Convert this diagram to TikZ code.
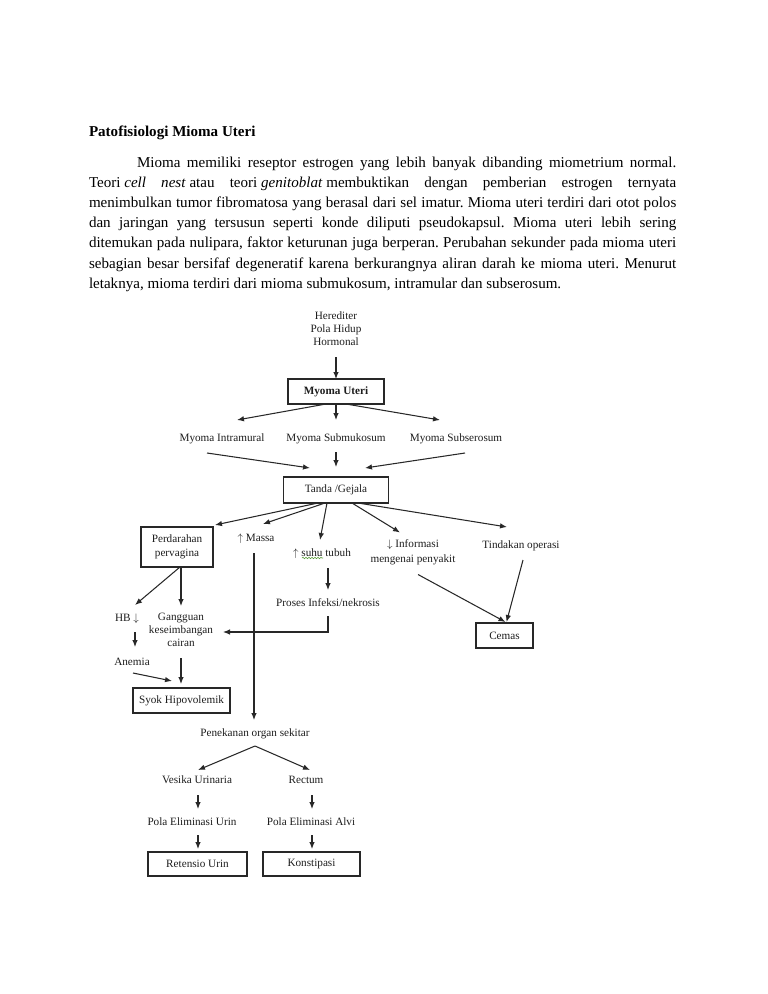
\documentclass[tikz,border=0pt]{standalone}
\usepackage{fontspec}
\setmainfont{Liberation Serif}
\usetikzlibrary{arrows.meta,calc,decorations.pathmorphing}
\definecolor{dtext}{HTML}{1E1E1E}
\definecolor{dline}{HTML}{282828}
\definecolor{squigcol}{HTML}{5A9E3A}
\newcommand\dfont{\fontsize{11.2pt}{13pt}\selectfont}
\newcommand\bodyfnt{\fontsize{15.06pt}{20pt}\selectfont}
\newcommand\gp{\hskip 3.75pt plus 1fil\relax}
\frenchspacing
\begin{document}
\frenchspacing
\begin{tikzpicture}[x=1pt,y=-1pt,
  lbl/.style={inner sep=0pt, outer sep=0pt, font=\dfont, text=dtext, text height=8.5pt, text depth=2pt},
  mlbl/.style={inner sep=0pt, outer sep=0pt, font=\dfont, text=dtext, align=center},
  boxn/.style={draw=dline, line width=1.1pt, inner sep=0pt, outer sep=0pt, font=\dfont, text=dtext, align=center},
  arr/.style={draw=dline, line width=1.05pt, -{Latex[length=7pt,width=5.5pt]}},
  bodyline/.style={anchor=base west, inner sep=0pt, outer sep=0pt, font=\bodyfnt, text=black}
]
\fill[white] (0,0) rectangle (768,994);
\useasboundingbox (0,0) rectangle (768,994);

% ---- title and paragraph ----
\node[bodyline, font=\bodyfnt\bfseries] (title) at (89,136) {Patofisiologi Mioma Uteri};
\node[bodyline] (l1) at (89,167) {\hbox to 587.3pt{\hskip 48pt Mioma memiliki reseptor estrogen yang lebih banyak dibanding miometrium normal.}};
\node[bodyline] (l2) at (89,187.2) {\hbox to 587.3pt{Teori \textit{cell}\gp\textit{nest} atau\gp teori \textit{genitoblat} membuktikan\gp dengan\gp pemberian\gp estrogen\gp ternyata}};
\node[bodyline] (l3) at (89,207.4) {\hbox to 587.3pt{menimbulkan tumor fibromatosa yang berasal dari sel imatur. Mioma uteri terdiri dari otot polos}};
\node[bodyline] (l4) at (89,227.6) {\hbox to 587.3pt{dan jaringan yang tersusun seperti konde diliputi pseudokapsul. Mioma uteri lebih sering}};
\node[bodyline] (l5) at (89,247.8) {\hbox to 587.3pt{ditemukan pada nulipara, faktor keturunan juga berperan. Perubahan sekunder pada mioma uteri}};
\node[bodyline] (l6) at (89,268) {\hbox to 587.3pt{sebagian besar bersifaf degeneratif karena berkurangnya aliran darah ke mioma uteri. Menurut}};
\node[bodyline] (l7) at (89,288.2) {letaknya, mioma terdiri dari mioma submukosum, intramular dan subserosum.};

% ---- diagram nodes ----
\node[mlbl] (her) at (336,329) {Herediter\\Pola Hidup\\Hormonal};
\node[boxn, minimum width=96pt, minimum height=25pt, font=\dfont\bfseries] (mu) at (336,391.5) {Myoma Uteri};
\node[lbl] (mi) at (222,438) {Myoma Intramural};
\node[lbl] (ms) at (336,438) {Myoma Submukosum};
\node[lbl] (mss) at (456,438) {Myoma Subserosum};
\node[boxn, minimum width=105pt, minimum height=26pt] (tg) at (336,490) {Tanda /Gejala};
\node[boxn, minimum width=72pt, minimum height=40pt, font=\fontsize{11.2pt}{14pt}\selectfont] (pp) at (177,547) {Perdarahan\\pervagina};
\node[lbl] (massa) at (256,538) {$\uparrow$ Massa};
\node[lbl] (suhu) at (322,553) {$\uparrow$ suhu tubuh};
\node[mlbl, font=\fontsize{11.2pt}{15pt}\selectfont] (inf) at (413,552.5) {$\downarrow$ Informasi\\mengenai penyakit};
\node[lbl] (tin) at (521,545) {Tindakan operasi};
\node[lbl] (pin) at (328,603) {Proses Infeksi/nekrosis};
\node[boxn, minimum width=57pt, minimum height=25pt] (cem) at (504.5,635.5) {Cemas};
\node[lbl] (hb) at (127,618) {HB $\downarrow$};
\node[mlbl] (gk) at (181,630) {Gangguan\\keseimbangan\\cairan};
\node[lbl] (an) at (132,662) {Anemia};
\node[boxn, minimum width=97pt, minimum height=25pt] (syok) at (181.5,700.5) {Syok Hipovolemik};
\node[lbl] (pen) at (255,733) {Penekanan organ sekitar};
\node[lbl] (ves) at (197,780) {Vesika Urinaria};
\node[lbl] (rec) at (306,780) {Rectum};
\node[lbl] (peu) at (192,822) {Pola Eliminasi Urin};
\node[lbl] (pea) at (311,822) {Pola Eliminasi Alvi};
\node[boxn, minimum width=99pt, minimum height=24pt] (ret) at (197.5,864) {Retensio Urin};
\node[boxn, minimum width=97pt, minimum height=24pt] (kon) at (311.5,864) {Konstipasi};

% spell-check squiggle under "suhu"
\draw[draw=squigcol, line width=0.6pt, decorate, decoration={snake, segment length=3pt, amplitude=0.7pt}] ($(suhu)+(-20,5)$) -- ($(suhu)+(1,5)$);

% ---- connectors ----
\draw[arr] ($(her)+(0,28)$) -- (mu.north);
\draw[arr] ($(mu.south)+(-10,0)$) -- ($(mi)+(15,-18)$);
\draw[arr] (mu.south) -- ($(ms)+(0,-18)$);
\draw[arr] ($(mu.south)+(10,0)$) -- ($(mss)+(-16,-18)$);
\draw[arr] ($(mi)+(-15,15)$) -- ($(tg.north)+(-26,-9)$);
\draw[arr] ($(ms)+(0,14)$) -- ($(tg.north)+(0,-10)$);
\draw[arr] ($(mss)+(9,15)$) -- ($(tg.north)+(29,-9)$);
\draw[arr] ($(tg.south)+(-18,0)$) -- ($(pp.north east)+(2,-2)$);
\draw[arr] ($(tg.south)+(-11,0)$) -- ($(massa)+(7,-14)$);
\draw[arr] ($(tg.south)+(-9,0)$) -- ($(suhu)+(-2,-13)$);
\draw[arr] ($(tg.south)+(16,0)$) -- ($(inf)+(-13,-20)$);
\draw[arr] ($(tg.south)+(22,0)$) -- ($(tin)+(-14,-18)$);
\draw[arr] ($(massa)+(-2,15)$) -- ($(pen)+(-1,-13)$);
\draw[arr] ($(suhu)+(6,15)$) -- ($(pin)+(0,-13)$);
\draw[arr] ($(pin)+(0,13)$) |- ($(gk)+(42,2)$);
\draw[arr] ($(inf)+(5,22)$) -- ($(cem.north)+(1,-1)$);
\draw[arr] ($(tin)+(2,15)$) -- ($(cem.north)+(2,-1)$);
\draw[arr] ($(pp.south)+(3,0)$) -- ($(hb)+(8,-13)$);
\draw[arr] ($(pp.south)+(4,0)$) -- ($(gk)+(0,-24)$);
\draw[arr] ($(hb)+(8,14)$) -- ($(an)+(3,-15)$);
\draw[arr] ($(an)+(1,11)$) -- ($(syok.north)+(-9.5,-7)$);
\draw[arr] ($(gk)+(0,28)$) -- ($(syok.north)+(-0.5,-4)$);
\draw[arr] ($(pen)+(0,13)$) -- ($(ves)+(1,-10)$);
\draw[arr] ($(pen)+(0,13)$) -- ($(rec)+(4,-10)$);
\draw[arr] ($(ves)+(1,15)$) -- ($(peu)+(6,-13)$);
\draw[arr] ($(rec)+(6,15)$) -- ($(pea)+(1,-13)$);
\draw[arr] ($(peu)+(6,13)$) -- ($(ret.north)+(0.5,-3)$);
\draw[arr] ($(pea)+(1,13)$) -- ($(kon.north)+(0.5,-3)$);
\end{tikzpicture}
\end{document}
